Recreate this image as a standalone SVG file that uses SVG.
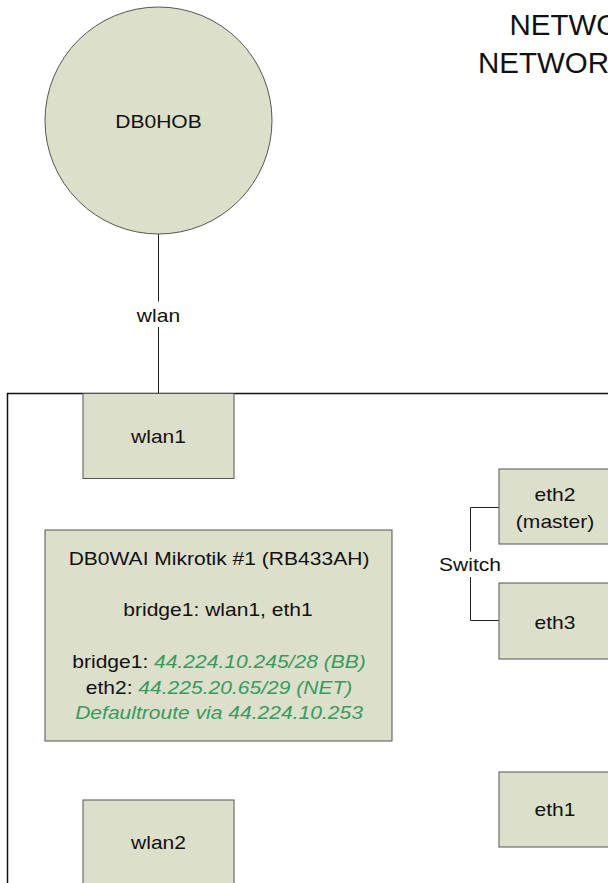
<svg xmlns="http://www.w3.org/2000/svg" width="608" height="883" viewBox="0 0 608 883">
  <style>
    .node { fill: #dcdfca; stroke: #555; stroke-width: 1; }
    .frame { fill: none; stroke: #111; stroke-width: 1.5; }
    .wire { fill: none; stroke: #222; stroke-width: 1; }
    .lbl { font-family: "Liberation Sans", Arial, sans-serif; font-size: 18.8px; fill: #111; text-anchor: middle; }
    .title { font-family: "Liberation Sans", Arial, sans-serif; font-size: 29.5px; fill: #111; }
    .ip { fill: #3a9a5e; font-style: italic; }
  </style>
  <rect width="608" height="883" fill="#fff"/>

  <!-- title, runs past the right edge -->
  <g id="title">
    <text class="title" x="509.5" y="35.3">NETWO</text>
    <text class="title" x="478" y="73">NETWOR</text>
  </g>

  <!-- router enclosure -->
  <g id="router-frame">
    <rect class="frame" x="7.5" y="393.5" width="630" height="520"/>
  </g>

  <g id="connectors">
    <line class="wire" x1="158.5" y1="234" x2="158.5" y2="301.5"/>
    <line class="wire" x1="158.5" y1="327" x2="158.5" y2="393.5"/>
    <text class="lbl" transform="translate(158.5,321.7) scale(1.12,1)">wlan</text>
    <path class="wire" d="M499,507.5 H470.5 V551.5 M470.5,577 V620.5 H499"/>
    <text class="lbl" transform="translate(470,571) scale(1.12,1)">Switch</text>
  </g>

  <g id="db0hob">
    <circle class="node" cx="158.5" cy="120.5" r="113.5"/>
    <text class="lbl" transform="translate(158.5,128.3) scale(1.12,1)">DB0HOB</text>
  </g>

  <g id="wlan1">
    <rect class="node" x="83" y="393.5" width="151" height="85"/>
    <text class="lbl" transform="translate(158.5,443.3) scale(1.12,1)">wlan1</text>
  </g>

  <g id="eth2">
    <rect class="node" x="499" y="469" width="130" height="75"/>
    <text class="lbl" transform="translate(555,500.7) scale(1.12,1)">eth2</text>
    <text class="lbl" transform="translate(555,527.5) scale(1.12,1)">(master)</text>
  </g>

  <g id="eth3">
    <rect class="node" x="499" y="583" width="130" height="76"/>
    <text class="lbl" transform="translate(555,629) scale(1.12,1)">eth3</text>
  </g>

  <g id="mikrotik">
    <rect class="node" x="45" y="530" width="347" height="211"/>
    <text class="lbl" transform="translate(219,565) scale(1.12,1)">DB0WAI Mikrotik #1 (RB433AH)</text>
    <text class="lbl" transform="translate(218,616) scale(1.12,1)">bridge1: wlan1, eth1</text>
    <text class="lbl" transform="translate(219,668.3) scale(1.12,1)">bridge1: <tspan class="ip">44.224.10.245/28 (BB)</tspan></text>
    <text class="lbl" transform="translate(219,694) scale(1.12,1)">eth2: <tspan class="ip">44.225.20.65/29 (NET)</tspan></text>
    <text class="lbl" transform="translate(219,719) scale(1.12,1)"><tspan class="ip">Defaultroute via 44.224.10.253</tspan></text>
  </g>

  <g id="wlan2">
    <rect class="node" x="83" y="800" width="151" height="100"/>
    <text class="lbl" transform="translate(158.5,849.3) scale(1.12,1)">wlan2</text>
  </g>

  <g id="eth1">
    <rect class="node" x="499" y="772" width="130" height="75"/>
    <text class="lbl" transform="translate(555,815.7) scale(1.12,1)">eth1</text>
  </g>
</svg>
